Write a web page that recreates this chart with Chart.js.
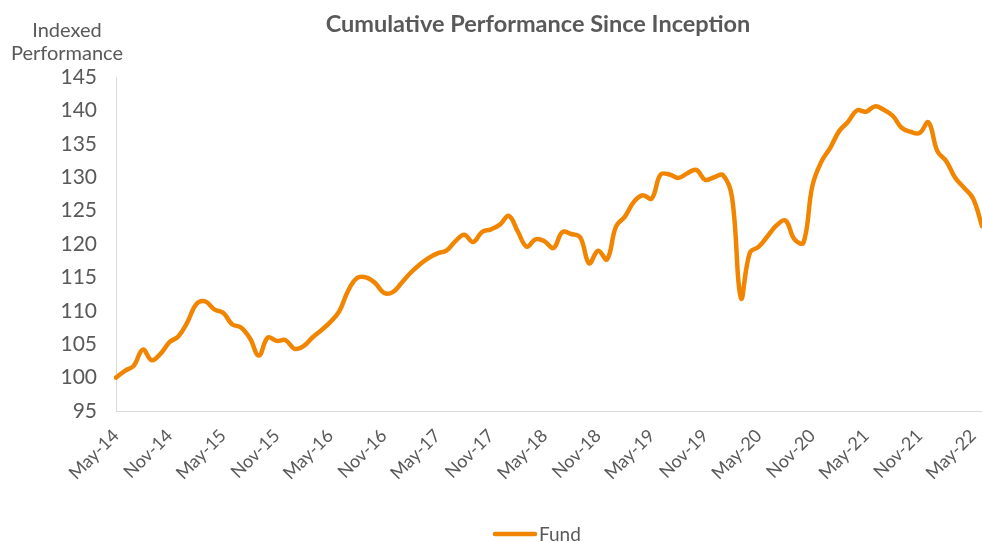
<!DOCTYPE html>
<html>
<head>
<meta charset="utf-8">
<title>Cumulative Performance Since Inception</title>
<script src="https://cdn.jsdelivr.net/npm/chart.js@4.4.0/dist/chart.umd.min.js"></script>
<style>
    html, body { margin: 0; padding: 0; background: #ffffff; }
    #wrap { width: 982px; height: 542px; position: relative; }
</style>
</head>
<body>
<div id="wrap"><canvas id="perfChart"></canvas></div>
<script>
// ---- data ----
const months = [
    'May-14','Jun-14','Jul-14','Aug-14','Sep-14','Oct-14','Nov-14','Dec-14','Jan-15','Feb-15','Mar-15','Apr-15',
    'May-15','Jun-15','Jul-15','Aug-15','Sep-15','Oct-15','Nov-15','Dec-15','Jan-16','Feb-16','Mar-16','Apr-16',
    'May-16','Jun-16','Jul-16','Aug-16','Sep-16','Oct-16','Nov-16','Dec-16','Jan-17','Feb-17','Mar-17','Apr-17',
    'May-17','Jun-17','Jul-17','Aug-17','Sep-17','Oct-17','Nov-17','Dec-17','Jan-18','Feb-18','Mar-18','Apr-18',
    'May-18','Jun-18','Jul-18','Aug-18','Sep-18','Oct-18','Nov-18','Dec-18','Jan-19','Feb-19','Mar-19','Apr-19',
    'May-19','Jun-19','Jul-19','Aug-19','Sep-19','Oct-19','Nov-19','Dec-19','Jan-20','Feb-20','Mar-20','Apr-20',
    'May-20','Jun-20','Jul-20','Aug-20','Sep-20','Oct-20','Nov-20','Dec-20','Jan-21','Feb-21','Mar-21','Apr-21',
    'May-21','Jun-21','Jul-21','Aug-21','Sep-21','Oct-21','Nov-21','Dec-21','Jan-22','Feb-22','Mar-22','Apr-22',
    'May-22','Jun-22'
];

const fundValues = [
    100.0, 101.0, 101.8, 104.2, 102.6, 103.6, 105.3, 106.2, 108.3, 111.0, 111.4, 110.2,
    109.7, 108.0, 107.5, 105.9, 103.3, 106.0, 105.5, 105.6, 104.3, 104.7, 106.0, 107.1,
    108.3, 109.9, 113.0, 114.9, 115.0, 114.2, 112.7, 112.8, 114.2, 115.7, 116.9, 117.9,
    118.6, 119.0, 120.4, 121.4, 120.3, 121.8, 122.2, 122.9, 124.2, 121.9, 119.6, 120.7,
    120.4, 119.4, 121.8, 121.5, 121.0, 117.1, 119.0, 117.7, 122.6, 124.1, 126.3, 127.3,
    126.8, 130.4, 130.4, 129.9, 130.6, 131.1, 129.6, 130.0, 130.3, 127.0, 111.9, 118.7,
    119.6, 121.2, 122.8, 123.5, 120.7, 120.2, 128.7, 132.3, 134.4, 136.9, 138.3, 140.0,
    139.8, 140.6, 140.1, 139.2, 137.4, 136.8, 136.6, 138.2, 133.9, 132.4, 129.9, 128.4,
    126.8, 122.7
];

// every 6th month gets a label
const tickLabels = ['May-14','Nov-14','May-15','Nov-15','May-16','Nov-16','May-17','Nov-17','May-18',
                    'Nov-18','May-19','Nov-19','May-20','Nov-20','May-21','Nov-21','May-22'];

const yTicks = [95, 100, 105, 110, 115, 120, 125, 130, 135, 140, 145];

const seriesName = 'Fund';
const chartTitle = 'Cumulative Performance Since Inception';
const yTitle     = ['Indexed', 'Performance'];

// ---- styling ----
const ORANGE = '#F28500';
const GREY   = '#595959';
const AXIS   = '#d9d9d9';
const FONT   = 'Lato';

// titles + legend drawn straight on the canvas so they sit where Excel put them
const decorations = {
    id: 'decorations',
    afterDraw(chart) {
        const { ctx } = chart;
        ctx.save();
        ctx.fillStyle = GREY;
        ctx.textBaseline = 'middle';

        ctx.textAlign = 'center';
        ctx.font = `bold 23.5px ${FONT}`;
        ctx.fillText(chartTitle, 538, 24);

        ctx.font = `20px ${FONT}`;
        ctx.fillText(yTitle[0], 67, 31);
        ctx.fillText(yTitle[1], 67, 54);

        // legend
        ctx.strokeStyle = ORANGE;
        ctx.lineWidth = 4.5;
        ctx.lineCap = 'round';
        ctx.beginPath();
        ctx.moveTo(495, 534);
        ctx.lineTo(535, 534);
        ctx.stroke();
        ctx.textAlign = 'left';
        ctx.font = `19px ${FONT}`;
        ctx.fillText(seriesName, 539, 535);
        ctx.restore();
    }
};

const canvas = document.getElementById('perfChart');
canvas.width = 982;
canvas.height = 542;

new Chart(canvas, {
    type: 'line',
    data: {
        labels: months,
        datasets: [{
            label: seriesName,
            data: fundValues,
            borderColor: ORANGE,
            borderWidth: 4.5,
            tension: 0.4,
            pointRadius: 0,
            fill: false,
            borderCapStyle: 'round',
            borderJoinStyle: 'round',
        }]
    },
    options: {
        responsive: false,
        animation: false,
        devicePixelRatio: 1,
        layout: { padding: { top: 77, right: 0, bottom: 0, left: 0 } },
        scales: {
            x: {
                type: 'category',
                grid: { display: false, drawTicks: false },
                border: { display: true, color: AXIS, width: 1 },
                afterFit: s => {
                    s.height = 131;
                    s.paddingLeft = 0;
                    s.paddingRight = 0;
                },
                ticks: {
                    autoSkip: false,
                    minRotation: 45,
                    maxRotation: 45,
                    padding: 14,
                    color: GREY,
                    font: { family: FONT, size: 18 },
                    callback: (val, idx) => idx % 6 === 0 ? tickLabels[idx / 6] : null
                }
            },
            y: {
                min: yTicks[0],
                max: yTicks[yTicks.length - 1],
                grid: { display: false, drawTicks: false },
                border: { display: true, color: AXIS, width: 1 },
                afterFit: s => { s.width = 116; },
                afterBuildTicks: s => { s.ticks = yTicks.map(v => ({ value: v })); },
                ticks: {
                    padding: 19,
                    color: GREY,
                    font: { family: FONT, size: 21 }
                }
            }
        },
        plugins: {
            legend: { display: false },
            title: { display: false },
            tooltip: { enabled: false }
        }
    },
    plugins: [decorations]
});
</script>
</body>
</html>
